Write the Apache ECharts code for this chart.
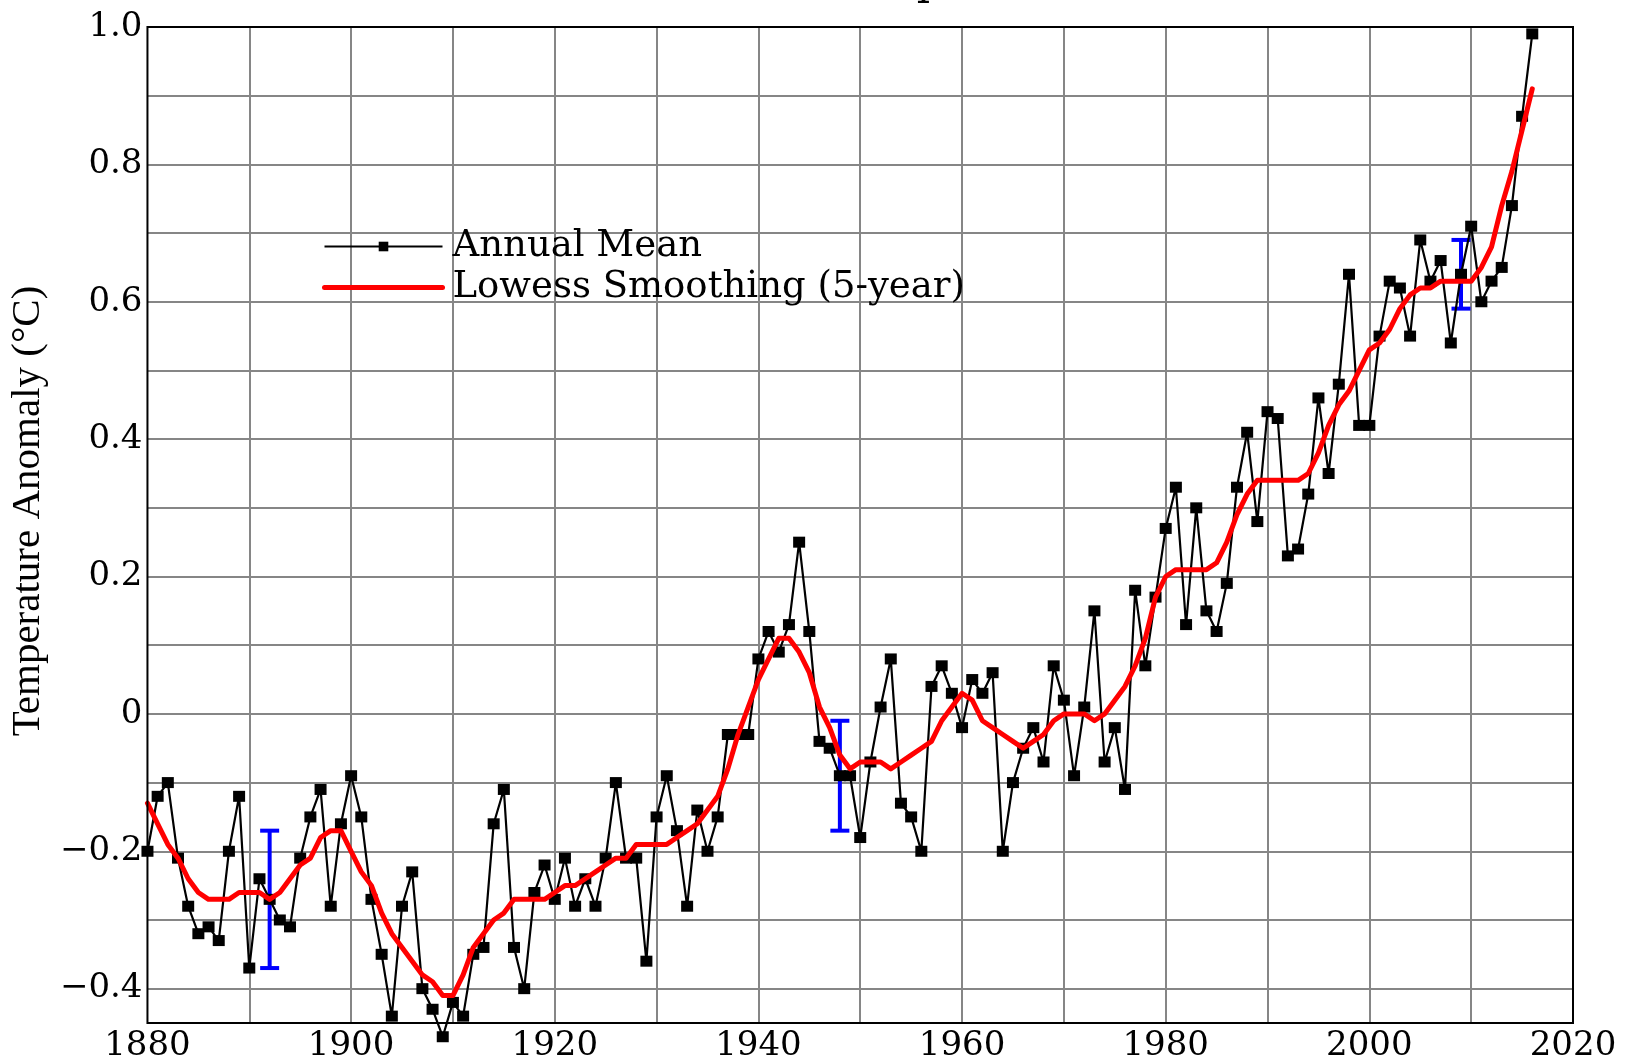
<!DOCTYPE html>
<html>
<head>
<meta charset="utf-8">
<script src="https://cdn.jsdelivr.net/npm/echarts@6/dist/echarts.min.js"></script>
<style>
  html, body { margin: 0; padding: 0; background: #fff; }
  #chart { width: 1642px; height: 1064px; }
</style>
</head>
<body>
<div id="chart"></div>
<script>
// ---- Data ----
const firstYear = 1880;
const annualMean = [
  -0.20, -0.12, -0.10, -0.21, -0.28, -0.32, -0.31, -0.33, -0.20, -0.12,
  -0.37, -0.24, -0.27, -0.30, -0.31, -0.21, -0.15, -0.11, -0.28, -0.16,
  -0.09, -0.15, -0.27, -0.35, -0.44, -0.28, -0.23, -0.40, -0.43, -0.47,
  -0.42, -0.44, -0.35, -0.34, -0.16, -0.11, -0.34, -0.40, -0.26, -0.22,
  -0.27, -0.21, -0.28, -0.24, -0.28, -0.21, -0.10, -0.21, -0.21, -0.36,
  -0.15, -0.09, -0.17, -0.28, -0.14, -0.20, -0.15, -0.03, -0.03, -0.03,
   0.08,  0.12,  0.09,  0.13,  0.25,  0.12, -0.04, -0.05, -0.09, -0.09,
  -0.18, -0.07,  0.01,  0.08, -0.13, -0.15, -0.20,  0.04,  0.07,  0.03,
  -0.02,  0.05,  0.03,  0.06, -0.20, -0.10, -0.05, -0.02, -0.07,  0.07,
   0.02, -0.09,  0.01,  0.15, -0.07, -0.02, -0.11,  0.18,  0.07,  0.17,
   0.27,  0.33,  0.13,  0.30,  0.15,  0.12,  0.19,  0.33,  0.41,  0.28,
   0.44,  0.43,  0.23,  0.24,  0.32,  0.46,  0.35,  0.48,  0.64,  0.42,
   0.42,  0.55,  0.63,  0.62,  0.55,  0.69,  0.63,  0.66,  0.54,  0.64,
   0.71,  0.60,  0.63,  0.65,  0.74,  0.87,  0.99
];
const lowess5 = [
  -0.13, -0.16, -0.19, -0.21, -0.24, -0.26, -0.27, -0.27, -0.27, -0.26,
  -0.26, -0.26, -0.27, -0.26, -0.24, -0.22, -0.21, -0.18, -0.17, -0.17,
  -0.20, -0.23, -0.25, -0.29, -0.32, -0.34, -0.36, -0.38, -0.39, -0.41,
  -0.41, -0.38, -0.34, -0.32, -0.30, -0.29, -0.27, -0.27, -0.27, -0.27,
  -0.26, -0.25, -0.25, -0.24, -0.23, -0.22, -0.21, -0.21, -0.19, -0.19,
  -0.19, -0.19, -0.18, -0.17, -0.16, -0.14, -0.12, -0.08, -0.03,  0.01,
   0.05,  0.08,  0.11,  0.11,  0.09,  0.06,  0.01, -0.02, -0.06, -0.08,
  -0.07, -0.07, -0.07, -0.08, -0.07, -0.06, -0.05, -0.04, -0.01,  0.01,
   0.03,  0.02, -0.01, -0.02, -0.03, -0.04, -0.05, -0.04, -0.03, -0.01,
   0.00,  0.00,  0.00, -0.01,  0.00,  0.02,  0.04,  0.07,  0.11,  0.17,
   0.20,  0.21,  0.21,  0.21,  0.21,  0.22,  0.25,  0.29,  0.32,  0.34,
   0.34,  0.34,  0.34,  0.34,  0.35,  0.38,  0.42,  0.45,  0.47,  0.50,
   0.53,  0.54,  0.56,  0.59,  0.61,  0.62,  0.62,  0.63,  0.63,  0.63,
   0.63,  0.65,  0.68,  0.74,  0.79,  0.85,  0.91
];
const errYears = [1892, 1948, 2009];
const errLow   = [-0.37, -0.17, 0.59];
const errHigh  = [-0.17, -0.01, 0.69];

const xGridValues  = [1890, 1900, 1910, 1920, 1930, 1940, 1950, 1960, 1970, 1980, 1990, 2000, 2010];
const xLabelValues = [1880, 1900, 1920, 1940, 1960, 1980, 2000, 2020];
const yGridValues  = [-0.4, -0.3, -0.2, -0.1, 0, 0.1, 0.2, 0.3, 0.4, 0.5, 0.6, 0.7, 0.8, 0.9];
const yLabelValues = [-0.4, -0.2, 0, 0.2, 0.4, 0.6, 0.8, 1.0];

const titleText = 'Global Land-Ocean Temperature Index';
const yAxisTitle = 'Temperature Anomaly (°C)';
const nameAnnual = 'Annual Mean';
const nameLowess = 'Lowess Smoothing (5-year)';

// ---- Build series data ----
const annualData = annualMean.map((v, i) => [firstYear + i, v]);
const lowessData = lowess5.map((v, i) => [firstYear + i, v]);
const errData = errYears.map((y, i) => [y, errLow[i], errHigh[i]]);

const serif = "'DejaVu Serif', serif";

const chart = echarts.init(document.getElementById('chart'), null, { renderer: 'canvas' });
chart.setOption({
  animation: false,
  backgroundColor: '#ffffff',
  title: {
    text: titleText,
    left: 'center',
    top: -43,
    textStyle: { fontFamily: serif, fontSize: 42, fontWeight: 'normal', color: '#000' }
  },
  grid: {
    left: 143, right: 69, top: 27, bottom: 41,
    show: true, borderColor: '#000', borderWidth: 2, backgroundColor: 'transparent', z: 5
  },
  legend: {
    orient: 'vertical',
    left: 322,
    top: 228,
    padding: 0,
    itemGap: 4,
    itemWidth: 118,
    itemHeight: 12,
    data: [
      { name: nameAnnual, lineStyle: { width: 2.2, color: '#000' } },
      { name: nameLowess, itemStyle: { opacity: 0 }, lineStyle: { width: 5, color: '#ff0000' } }
    ],
    textStyle: { fontFamily: serif, fontSize: 37, lineHeight: 36, color: '#000', padding: [0, 0, 0, 5] }
  },
  xAxis: {
    type: 'value',
    min: 1880, max: 2020,
    axisLine: { show: false },
    axisTick: { show: false, customValues: xGridValues },
    axisLabel: {
      customValues: xLabelValues,
      margin: 6,
      fontFamily: serif, fontSize: 34, color: '#000',
      formatter: v => String(v)
    },
    splitLine: { show: true, lineStyle: { color: '#868686', width: 2 } }
  },
  yAxis: {
    type: 'value',
    min: -0.45, max: 1.0,
    axisLine: { show: false },
    axisTick: { show: false, customValues: yGridValues },
    axisLabel: {
      customValues: yLabelValues,
      margin: 5,
      padding: [0, 0, 5, 0],
      fontFamily: serif, fontSize: 34, color: '#000',
      formatter: v => {
        const r = Math.round(v * 10) / 10;
        if (r === 0) return '0';
        const s = Math.abs(r).toFixed(1);
        return r < 0 ? '\u2212' + s : s;
      }
    },
    splitLine: { show: true, lineStyle: { color: '#868686', width: 2 } },
    name: yAxisTitle,
    nameLocation: 'middle',
    nameRotate: 90,
    nameGap: 82,
    nameTextStyle: { fontFamily: "'Liberation Serif', serif", fontSize: 41, color: '#000', padding: [0, 0, 0, 28] }
  },
  series: [
    {
      type: 'custom',
      name: 'Uncertainty',
      z: 2,
      clip: false,
      data: errData,
      encode: { x: 0, y: [1, 2] },
      renderItem: (params, api) => {
        const x = api.value(0);
        const top = api.coord([x, api.value(2)]);
        const bot = api.coord([x, api.value(1)]);
        const hw = 9.5;
        const st = { stroke: '#0000ff', lineWidth: 4 };
        return {
          type: 'group',
          children: [
            { type: 'line', shape: { x1: top[0], y1: top[1], x2: bot[0], y2: bot[1] }, style: st },
            { type: 'line', shape: { x1: top[0] - hw, y1: top[1], x2: top[0] + hw, y2: top[1] }, style: st },
            { type: 'line', shape: { x1: bot[0] - hw, y1: bot[1], x2: bot[0] + hw, y2: bot[1] }, style: st }
          ]
        };
      }
    },
    {
      type: 'line',
      name: nameAnnual,
      z: 3,
      clip: false,
      data: annualData,
      symbol: 'rect',
      symbolSize: [12, 11],
      showAllSymbol: true,
      lineStyle: { color: '#000', width: 2.2 },
      itemStyle: { color: '#000' }
    },
    {
      type: 'line',
      name: nameLowess,
      z: 4,
      clip: false,
      data: lowessData,
      symbol: 'none',
      lineStyle: { color: '#ff0000', width: 5, join: 'round', cap: 'round' },
      itemStyle: { color: '#ff0000' }
    }
  ]
});
</script>
</body>
</html>
